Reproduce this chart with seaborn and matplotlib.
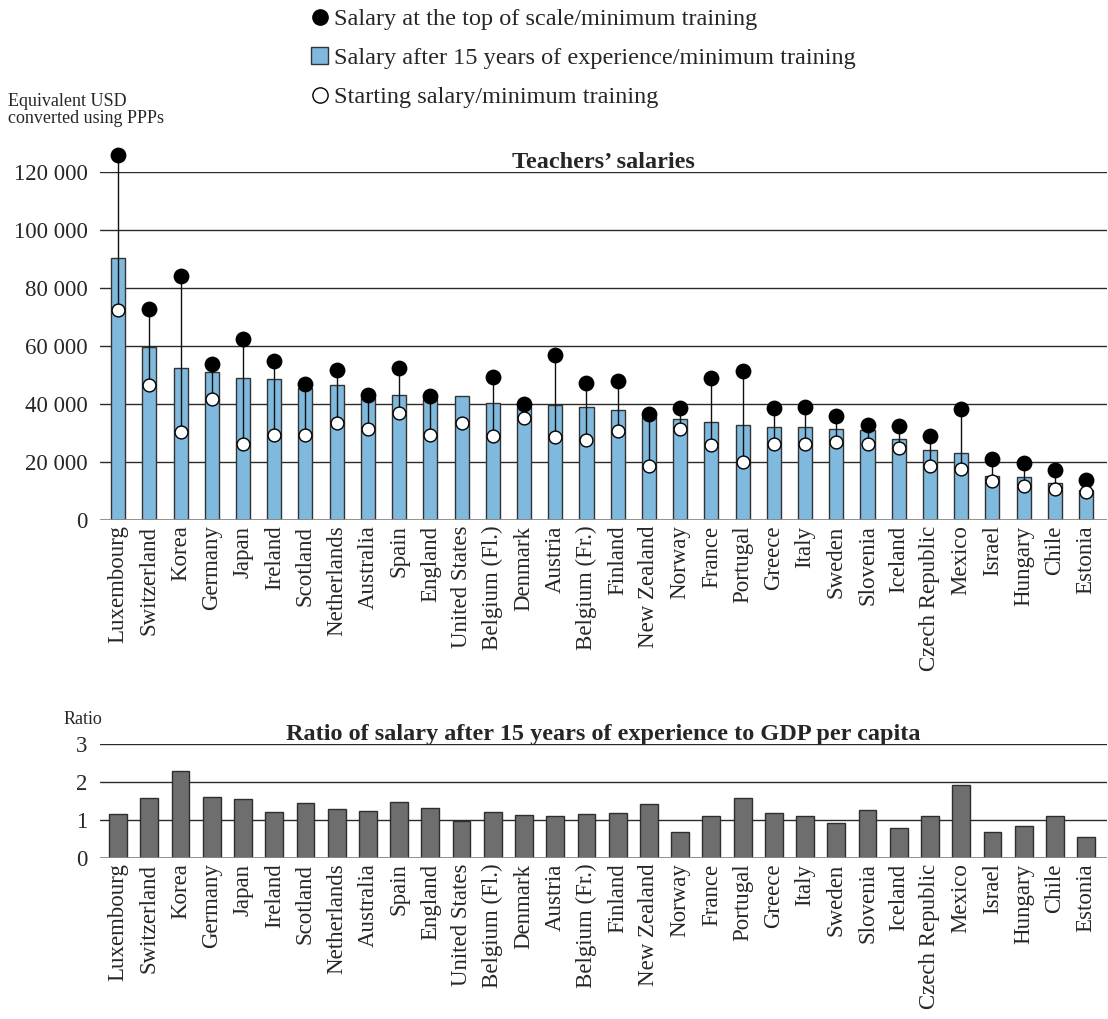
import numpy as np
import pandas as pd
import matplotlib
matplotlib.use("Agg")
import matplotlib.pyplot as plt
from matplotlib.lines import Line2D
from matplotlib.patches import Patch
import seaborn as sns

countries = ["Luxembourg", "Switzerland", "Korea", "Germany", "Japan", "Ireland",
             "Scotland", "Netherlands", "Australia", "Spain", "England",
             "United States", "Belgium (Fl.)", "Denmark", "Austria",
             "Belgium (Fr.)", "Finland", "New Zealand", "Norway", "France",
             "Portugal", "Greece", "Italy", "Sweden", "Slovenia", "Iceland",
             "Czech Republic", "Mexico", "Israel", "Hungary", "Chile", "Estonia"]

salary_15yrs = [90500, 59700, 52500, 51200, 48900, 48500, 45400, 46400, 42000,
                43100, 41600, 42600, 40500, 39100, 39600, 38800, 38100, 35600,
                35000, 33800, 32700, 31900, 31900, 31500, 30900, 28000, 24200,
                23200, 15200, 14900, 12900, 10300]
salary_top = [125800, 72800, 84100, 53700, 62500, 54900, 46900, 51600, 43100,
              52500, 42900, np.nan, 49300, 39900, 56900, 47300, 48000, 36700,
              38700, 48800, 51500, 38500, 39100, 35900, 32700, 32400, 28900,
              38300, 21100, 19600, 17300, 13700]
salary_start = [72300, 46400, 30200, 41700, 26200, 29300, 29400, 33600, 31300,
                37000, 29300, 33500, 29100, 35300, 28700, 27500, 30700, 18700,
                31300, 25700, 20000, 26300, 26100, 26800, 26300, 24900, 18500,
                17700, 13300, 11700, 10700, 9600]
ratio_gdp = [1.16, 1.59, 2.28, 1.61, 1.55, 1.21, 1.44, 1.28, 1.24, 1.48, 1.32,
             0.98, 1.21, 1.13, 1.10, 1.16, 1.19, 1.42, 0.68, 1.10, 1.58, 1.19,
             1.10, 0.91, 1.27, 0.79, 1.11, 1.93, 0.68, 0.84, 1.11, 0.54]

salary_ticks = [0, 20000, 40000, 60000, 80000, 100000, 120000]
salary_ticklabels = ["0", "20 000", "40 000", "60 000", "80 000", "100 000", "120 000"]
ratio_ticks = [0, 1, 2, 3]

sns.set_theme(style="white")
plt.rcParams["font.family"] = ["Liberation Serif", "DejaVu Serif"]

df = pd.DataFrame({"country": countries, "s15": salary_15yrs,
                   "top": salary_top, "start": salary_start, "ratio": ratio_gdp})
df["pos"] = np.arange(len(df))

W, H = 1108, 1019
fig = plt.figure(figsize=(W / 100, H / 100), dpi=100)

def frac_box(left, right, top, bottom):
    return [left / W, 1 - bottom / H, (right - left) / W, (bottom - top) / H]

ax1 = fig.add_axes(frac_box(100, 1107, 172, 520))
ax2 = fig.add_axes(frac_box(100, 1107, 744, 858))

grid_color = "#2a2a2a"
tick_fs = 16.5
title_fs = 17.5

# ---- top panel ----
for v in salary_ticks[1:]:
    ax1.axhline(v, color=grid_color, lw=1.0, zorder=0)
sns.barplot(data=df, x="country", y="s15", ax=ax1, color="#7fb9dd",
            width=0.45, edgecolor="#333333", linewidth=1.0, saturation=1, zorder=2)
hi = df[["top", "start"]].max(axis=1)
ax1.vlines(df["pos"], df["start"], hi, color="#111111", lw=1.0, zorder=3, clip_on=False)
ax1.scatter(df["pos"], df["top"], s=130, color="black", zorder=4, clip_on=False, linewidths=0)
ax1.scatter(df["pos"], df["start"], s=85, facecolor="white", edgecolor="black",
            linewidths=1.0, zorder=5, clip_on=False)
ax1.axhline(0, color="#888888", lw=2.0, zorder=6)

ax1.set_xlim(-0.58, len(countries) - 1 + 0.67)
ax1.set_ylim(0, 120000)
ax1.set_yticks(salary_ticks)
ax1.set_yticklabels(salary_ticklabels, fontsize=tick_fs)
ax1.set_xticks(range(len(countries)))
ax1.set_xticklabels(countries, rotation=90, fontsize=tick_fs, va="top", ha="center")
ax1.tick_params(axis="y", length=0, pad=9)
ax1.tick_params(axis="x", length=0, pad=4)
ax1.set_xlabel("")
ax1.set_ylabel("")
sns.despine(ax=ax1, left=True, bottom=True, top=True, right=True)
ax1.set_title("Teachers’ salaries", fontsize=title_fs, fontweight="bold", pad=3)

fig.text(8 / W, 1 - 110 / H, "Equivalent USD\nconverted using PPPs", fontsize=13,
         ha="left", va="center", linespacing=1.05)

# ---- bottom panel ----
for v in ratio_ticks[1:]:
    ax2.axhline(v, color=grid_color, lw=1.0, zorder=0)
sns.barplot(data=df, x="country", y="ratio", ax=ax2, color="#6e6e6e",
            width=0.57, edgecolor="#2e2e2e", linewidth=1.0, saturation=1, zorder=2)
ax2.axhline(0, color="#888888", lw=2.0, zorder=6)
ax2.set_xlim(-0.58, len(countries) - 1 + 0.67)
ax2.set_ylim(0, 3)
ax2.set_yticks(ratio_ticks)
ax2.set_yticklabels([str(t) for t in ratio_ticks], fontsize=tick_fs)
ax2.set_xticks(range(len(countries)))
ax2.set_xticklabels(countries, rotation=90, fontsize=tick_fs, va="top", ha="center")
ax2.tick_params(axis="y", length=0, pad=9)
ax2.tick_params(axis="x", length=0, pad=4)
ax2.set_xlabel("")
ax2.set_ylabel("")
sns.despine(ax=ax2, left=True, bottom=True, top=True, right=True)
ax2.set_title("Ratio of salary after 15 years of experience to GDP per capita",
              fontsize=title_fs, fontweight="bold", pad=3)
fig.text(83 / W, 1 - 719 / H, "Ratio", fontsize=13, ha="center", va="center")

# ---- legend ----
handles = [
    Line2D([0], [0], marker="o", color="none", markerfacecolor="black",
           markeredgecolor="black", markersize=11),
    Patch(facecolor="#7fb9dd", edgecolor="#333333", linewidth=1.0),
    Line2D([0], [0], marker="o", color="none", markerfacecolor="white",
           markeredgecolor="black", markersize=11, markeredgewidth=1.0),
]
labels = ["Salary at the top of scale/minimum training",
          "Salary after 15 years of experience/minimum training",
          "Starting salary/minimum training"]
fig.legend(handles, labels, loc="upper left", bbox_to_anchor=(311 / W, 1 - 8 / H),
           frameon=False, fontsize=17.5, handlelength=0.7, handleheight=0.7,
           handletextpad=0.25, labelspacing=0.7, borderpad=0, borderaxespad=0)

fig.savefig("out.png", dpi=100)
